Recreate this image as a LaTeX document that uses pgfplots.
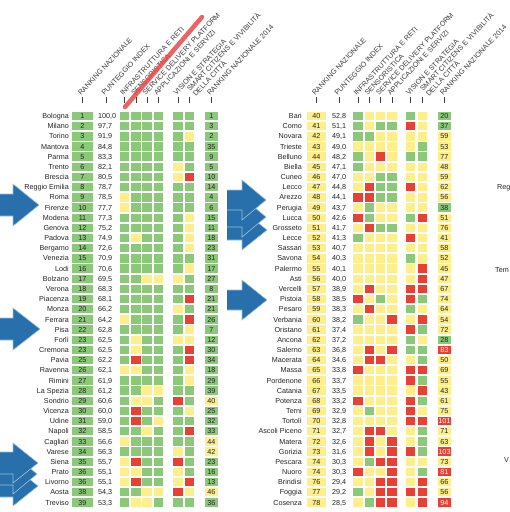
\documentclass[border=0pt]{standalone}
\usepackage{pgfplots}
\usepackage{pgfplotstable}
\usepackage{fontspec}
\setmainfont{Liberation Sans}
\pgfplotsset{compat=1.18}
\definecolor{cg}{RGB}{140,200,121}
\definecolor{cy}{RGB}{255,239,140}
\definecolor{cr}{RGB}{232,64,52}
\definecolor{ab}{RGB}{40,112,172}
\definecolor{tx}{RGB}{35,35,35}
\definecolor{hd}{RGB}{60,60,60}
\definecolor{mk}{RGB}{235,70,70}

\pgfplotstableread[col sep=semicolon]{
i;name;rk;sc;a;b;c;d;e;f;r14;rc
1;Bologna;1;100,0;0;0;0;0;0;0;1;0
2;Milano;2;97,7;0;0;0;0;0;0;3;0
3;Torino;3;91,9;0;0;0;0;0;1;2;0
4;Mantova;4;84,8;0;0;0;0;0;0;35;0
5;Parma;5;83,3;0;0;0;0;0;0;9;0
6;Trento;6;82,1;0;0;0;0;1;0;5;0
7;Brescia;7;80,5;0;0;0;0;1;2;10;0
8;Reggio Emilia;8;78,7;0;0;0;0;0;0;14;0
9;Roma;9;78,5;1;0;0;0;0;0;4;0
10;Firenze;10;77,7;1;0;0;0;0;0;6;0
11;Modena;11;77,3;0;0;0;0;0;1;15;0
12;Genova;12;75,2;0;0;0;0;0;1;11;0
13;Padova;13;74,9;0;1;0;0;0;1;18;0
14;Bergamo;14;72,6;0;0;0;0;0;1;23;0
15;Venezia;15;70,9;0;0;0;0;0;0;31;0
16;Lodi;16;70,6;0;0;0;0;0;1;17;0
17;Bolzano;17;69,5;0;0;1;1;1;0;27;0
18;Verona;18;68,3;0;0;0;0;0;0;8;0
19;Piacenza;19;68,1;0;0;0;0;0;2;21;0
20;Monza;20;66,2;0;0;0;0;1;0;21;0
21;Ferrara;21;64,2;1;0;0;0;0;2;26;0
22;Pisa;22;62,8;0;0;0;0;0;1;7;0
23;Forlì;23;62,5;0;1;0;0;1;1;12;0
24;Cremona;23;62,5;0;1;0;0;0;2;30;0
25;Pavia;25;62,2;0;2;0;0;0;2;34;0
26;Ravenna;26;62,1;1;1;0;0;0;1;18;0
27;Rimini;27;61,9;0;0;0;0;0;1;29;0
28;La Spezia;28;61,2;0;0;1;1;0;0;39;0
29;Sondrio;29;60,6;0;1;1;0;2;0;40;1
30;Vicenza;30;60,0;0;2;0;0;0;1;25;0
31;Udine;31;59,0;0;2;0;1;0;0;32;0
32;Napoli;32;58,5;0;0;1;0;0;2;33;0
33;Cagliari;33;56,6;1;0;0;0;0;0;44;1
34;Varese;34;56,3;0;0;0;0;1;0;42;1
35;Siena;35;55,7;1;2;0;0;2;0;23;0
36;Prato;36;55,1;1;1;0;0;1;0;16;0
37;Livorno;36;55,1;1;2;0;0;1;2;13;0
38;Aosta;38;54,3;0;0;1;1;2;1;46;1
39;Treviso;39;53,3;0;1;1;0;0;0;36;0
}\lefttab

\pgfplotstableread[col sep=semicolon]{
i;name;rk;sc;a;b;c;d;e;f;r14;rc
40;Bari;40;52,8;0;1;1;1;0;1;20;0
41;Como;41;51,1;0;1;0;0;2;1;37;0
42;Novara;42;49,1;0;0;1;1;1;1;59;1
43;Trieste;43;49,0;1;1;1;1;1;0;53;1
44;Belluno;44;48,2;0;1;2;1;0;0;77;1
45;Biella;45;47,1;0;1;1;1;1;1;48;1
46;Cuneo;46;47,0;1;1;0;0;1;1;59;1
47;Lecco;47;44,8;1;2;0;0;2;1;62;1
48;Arezzo;48;44,1;2;2;0;0;1;1;56;1
49;Perugia;49;43,7;1;0;1;1;1;1;38;0
50;Lucca;50;42,6;2;0;1;1;0;2;51;1
51;Grosseto;51;41,7;1;2;0;0;1;1;76;1
52;Lecce;52;41,3;0;1;1;1;2;1;41;1
53;Sassari;53;40,7;1;1;1;1;1;1;58;1
54;Savona;54;40,3;1;1;1;1;0;1;52;1
55;Palermo;55;40,1;1;1;1;1;1;2;45;1
56;Asti;56;40,0;1;1;1;1;1;2;47;1
57;Vercelli;57;38,9;1;2;1;1;2;2;67;1
58;Pistoia;58;38,5;2;1;0;1;2;0;74;1
59;Pesaro;59;38,3;1;2;1;1;0;1;64;1
60;Verbania;60;38,2;0;1;1;2;1;2;54;1
61;Oristano;61;37,4;1;1;1;1;2;0;72;1
62;Ancona;62;37,2;1;1;1;1;0;1;28;0
63;Salerno;63;36,8;1;2;1;2;0;0;83;2
64;Macerata;64;34,6;1;2;2;1;1;0;50;1
65;Massa;65;33,8;2;1;1;1;2;2;69;1
66;Pordenone;66;33,7;1;1;1;1;2;0;55;1
67;Catania;67;33,5;1;1;1;1;1;2;43;1
68;Potenza;68;33,2;2;1;1;1;2;0;61;1
69;Terni;69;32,9;1;0;1;1;2;1;75;1
70;Tortolì;70;32,8;1;1;1;1;2;2;101;2
71;Ascoli Piceno;71;32,7;1;2;2;1;1;0;71;1
72;Matera;72;32,6;1;2;1;2;1;0;63;1
73;Gorizia;73;31,6;1;2;1;2;2;0;103;2
74;Pescara;74;30,3;1;0;2;2;1;1;73;1
75;Nuoro;74;30,3;2;1;1;2;1;0;81;2
76;Brindisi;76;29,4;1;1;2;2;1;2;66;1
77;Foggia;77;29,2;0;1;2;2;2;2;56;1
78;Cosenza;78;28,5;1;0;2;2;1;2;94;2
}\righttab

\pgfplotsset{
  cellp/.style={scatter, only marks, mark=square*, mark size=4.2bp,
    point meta=explicit, point meta min=0, point meta max=2,
    mark options={xscale=#1, draw opacity=0},
    scatter/use mapped color={draw=mapped color, fill=mapped color}},
  tnode/.style={only marks, mark=none,
    point meta=explicit symbolic, nodes near coords,
    every node near coord/.style={inner sep=0pt, font=\fontsize{7.2bp}{8bp}\selectfont,
      text=tx, yshift=-2.6bp, #1}},
  arrow/.style={fill=ab, draw=white!55!ab, line width=0.6bp},
}
\tikzset{
  hdr/.style={rotate=47, anchor=base west, inner sep=0pt,
    font=\fontsize{7.2bp}{8bp}\selectfont, text=hd},
  cut/.style={anchor=base west, inner sep=0pt, font=\fontsize{7.2bp}{8bp}\selectfont, text=tx},
}

\begin{document}
\begin{tikzpicture}
\begin{axis}[
  scale only axis, width=510bp, height=512bp,
  xmin=0, xmax=510, ymin=0, ymax=512, y dir=reverse,
  hide axis,
  colormap={gyr}{rgb255=(140,200,121) rgb255=(255,239,140) rgb255=(232,64,52)},
]
% ---------- left table ----------
\addplot[only marks, mark=square*, mark size=4.2bp, mark options={xscale=2.4, fill=cg, draw opacity=0}]
  table[x expr=82.5, y expr=116+\coordindex*10.17] {\lefttab};
\addplot[cellp=1.13] table[x expr=124.5, y expr=116+\coordindex*10.17, meta=a] {\lefttab};
\addplot[cellp=1.13] table[x expr=135.8, y expr=116+\coordindex*10.17, meta=b] {\lefttab};
\addplot[cellp=1.13] table[x expr=147.1, y expr=116+\coordindex*10.17, meta=c] {\lefttab};
\addplot[cellp=1.13] table[x expr=158.4, y expr=116+\coordindex*10.17, meta=d] {\lefttab};
\addplot[cellp=1.13] table[x expr=178, y expr=116+\coordindex*10.17, meta=e] {\lefttab};
\addplot[cellp=1.13] table[x expr=189.5, y expr=116+\coordindex*10.17, meta=f] {\lefttab};
\addplot[cellp=1.5] table[x expr=211.5, y expr=116+\coordindex*10.17, meta=rc] {\lefttab};
\addplot[tnode={anchor=base east}] table[x expr=69, y expr=116+\coordindex*10.17, meta=name] {\lefttab};
\addplot[tnode={anchor=base}] table[x expr=82.5, y expr=116+\coordindex*10.17, meta=rk] {\lefttab};
\addplot[tnode={anchor=base west}] table[x expr=98, y expr=116+\coordindex*10.17, meta=sc] {\lefttab};
\addplot[tnode={anchor=base}] table[x expr=211.5, y expr=116+\coordindex*10.17, meta=r14] {\lefttab};
% ---------- right table ----------
\addplot[only marks, mark=square*, mark size=4.2bp, mark options={xscale=2.2, fill=cy, draw opacity=0}]
  table[x expr=316.5, y expr=116+\coordindex*10.17] {\righttab};
\addplot[cellp=1.13] table[x expr=358, y expr=116+\coordindex*10.17, meta=a] {\righttab};
\addplot[cellp=1.13] table[x expr=369.3, y expr=116+\coordindex*10.17, meta=b] {\righttab};
\addplot[cellp=1.13] table[x expr=380.6, y expr=116+\coordindex*10.17, meta=c] {\righttab};
\addplot[cellp=1.13] table[x expr=391.9, y expr=116+\coordindex*10.17, meta=d] {\righttab};
\addplot[cellp=1.13] table[x expr=410.5, y expr=116+\coordindex*10.17, meta=e] {\righttab};
\addplot[cellp=1.13] table[x expr=422.5, y expr=116+\coordindex*10.17, meta=f] {\righttab};
\addplot[cellp=1.5] table[x expr=444.5, y expr=116+\coordindex*10.17, meta=rc] {\righttab};
\addplot[tnode={anchor=base east}] table[x expr=302, y expr=116+\coordindex*10.17, meta=name] {\righttab};
\addplot[tnode={anchor=base}] table[x expr=316.5, y expr=116+\coordindex*10.17, meta=rk] {\righttab};
\addplot[tnode={anchor=base west}] table[x expr=332, y expr=116+\coordindex*10.17, meta=sc] {\righttab};
\addplot[tnode={anchor=base}, restrict expr to domain={\thisrow{rc}}{0:1}]
  table[x expr=444.5, y expr=116+\coordindex*10.17, meta=r14] {\righttab};
\addplot[tnode={anchor=base, text=white}, restrict expr to domain={\thisrow{rc}}{2:2}]
  table[x expr=444.5, y expr=116+\coordindex*10.17, meta=r14] {\righttab};
% ---------- header ticks ----------
\addplot[hd, line width=0.5bp, unbounded coords=jump] coordinates {
 (82.5,97)(82.5,103) (nan,nan) (106,97)(106,103) (nan,nan) (124.5,97)(124.5,103) (nan,nan)
 (135.8,97)(135.8,103) (nan,nan) (147.1,97)(147.1,103) (nan,nan) (158.4,97)(158.4,103) (nan,nan)
 (178,97)(178,103) (nan,nan) (189.5,97)(189.5,103) (nan,nan) (211.5,97)(211.5,103) (nan,nan)
 (316.5,97)(316.5,103) (nan,nan) (339,97)(339,103) (nan,nan) (358,97)(358,103) (nan,nan)
 (369.3,97)(369.3,103) (nan,nan) (380.6,97)(380.6,103) (nan,nan) (391.9,97)(391.9,103) (nan,nan)
 (410.5,97)(410.5,103) (nan,nan) (422.5,97)(422.5,103) (nan,nan) (444.5,97)(444.5,103)};
% ---------- arrows ----------
\addplot[arrow] coordinates {(-5,194) (13,194) (13,184) (39,205) (13,226) (13,216) (-5,216)};
\addplot[arrow] coordinates {(-5,318) (13,318) (13,308) (40,329) (13,350) (13,340) (-5,340)};
\addplot[arrow] coordinates {(-5,475) (13,475) (13,466) (38,486) (13,506) (13,497) (-5,497)};
\addplot[arrow] coordinates {(-5,463) (13,463) (13,454) (37,474) (13,494) (13,485) (-5,485)};
\addplot[arrow] coordinates {(-5,452) (13,452) (13,443) (38,463) (13,483) (13,474) (-5,474)};
\addplot[arrow] coordinates {(227,220) (242,220) (242,210) (267,230) (242,250) (242,240) (227,240)};
\addplot[arrow] coordinates {(227,207) (242,207) (242,197) (266,217) (242,237) (242,227) (227,227)};
\addplot[arrow] coordinates {(227,190) (242,190) (242,180) (266,200) (242,220) (242,210) (227,210)};
\addplot[arrow] coordinates {(227,290) (242,290) (242,280) (267,300) (242,320) (242,310) (227,310)};
% ---------- headers ----------
\node[hdr] at (axis cs:81,96) {RANKING NAZIONALE};
\node[hdr] at (axis cs:104.5,96) {PUNTEGGIO INDEX};
\node[hdr] at (axis cs:123,96) {INFRASTRUTTURA E RETI};
\node[hdr] at (axis cs:134.3,96) {SENSORISTICA};
\node[hdr] at (axis cs:145.6,96) {SERVICE DELIVERY PLATFORM};
\node[hdr] at (axis cs:156.9,96) {APPLICAZIONI E SERVIZI};
\node[hdr] at (axis cs:176.5,96) {VISION E STRATEGIA};
\node[hdr] at (axis cs:190,92) {SMART CITIZENS E VIVIBILITÀ};
\node[hdr] at (axis cs:196,97) {DELLA CITTÀ};
\node[hdr] at (axis cs:210,96) {RANKING NAZIONALE 2014};
\node[hdr] at (axis cs:315,96) {RANKING NAZIONALE};
\node[hdr] at (axis cs:337.5,96) {PUNTEGGIO INDEX};
\node[hdr] at (axis cs:356.5,96) {INFRASTRUTTURA E RETI};
\node[hdr] at (axis cs:367.8,96) {SENSORISTICA};
\node[hdr] at (axis cs:379.1,96) {SERVICE DELIVERY PLATFORM};
\node[hdr] at (axis cs:390.4,96) {APPLICAZIONI E SERVIZI};
\node[hdr] at (axis cs:409,96) {VISION E STRATEGIA};
\node[hdr] at (axis cs:423,92) {SMART CITIZENS E VIVIBILITÀ};
\node[hdr] at (axis cs:429,97) {DELLA CITTÀ};
\node[hdr] at (axis cs:443,96) {RANKING NAZIONALE 2014};
% ---------- marker stroke ----------
\addplot[mk, line width=4.5bp, opacity=0.85, line cap=round] coordinates {(125,107) (202,17)};
% ---------- cut-off third table ----------
\node[cut] at (axis cs:497,189.5) {Reg};
\node[cut] at (axis cs:495,272.5) {Tem};
\node[cut] at (axis cs:504,462.5) {V};
\end{axis}
\pgfresetboundingbox
\path[use as bounding box] (current axis.south west) rectangle (current axis.north east);
\end{tikzpicture}
\end{document}
